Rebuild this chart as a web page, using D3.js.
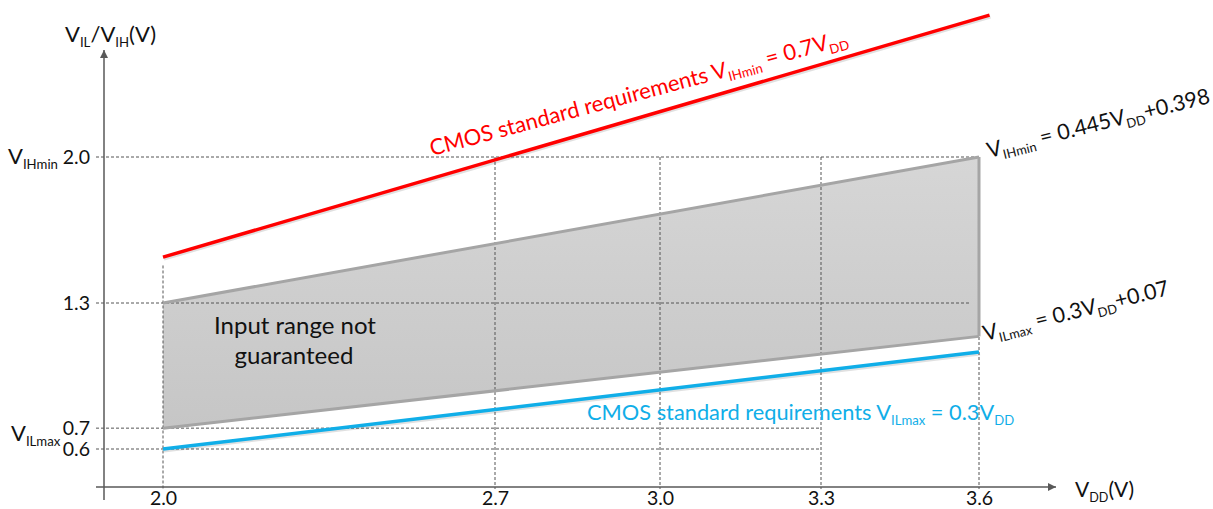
<!DOCTYPE html>
<html>
<head>
<meta charset="utf-8">
<script src="https://cdn.jsdelivr.net/npm/d3@7"></script>
<style>
  body { margin: 0; background: #fff; }
  svg text { font-family: Lato, "Open Sans", sans-serif; }
</style>
</head>
<body>
<div id="chart"></div>
<script>
// ============= Data =============
const xTicks = [2.0, 2.7, 3.0, 3.3, 3.6];
const yTicks = [0.6, 0.7, 1.3, 2.0];
const hGridEnd = [3.3, 3.3, 3.6, 3.6];      // where each horizontal dashed line stops (VDD)
const vGridTop = [1.48, 2.0, 2.0, 2.0, 2.0]; // where each vertical dashed line starts (V)

const vdd = [2.0, 3.6];
const vihMin = [1.3, 2.0];     // 0.445VDD+0.398
const vilMax = [0.7, 1.14];    // 0.3VDD+0.07
const cmosVdd = [2.0, 3.62];
const cmosVih = [1.52, 2.68];  // 0.7VDD (as drawn)
const cmosVil = [0.6, 1.065];  // 0.3VDD (as drawn)

const width = 1213;
const height = 509;
const axisX = 104;   // y axis position
const axisY = 487;   // x axis position

// ============= Scales =============
// the drawing's VDD axis is not evenly spaced, so map tick to tick
const x = d3.scaleLinear()
    .domain(xTicks)
    .range([163, 495, 660, 821, 979]);

const y = d3.scaleLinear()
    .domain([0.6, 2.0])
    .range([449, 157]);

const svg = d3.select('#chart')
    .append('svg')
    .attr('width', width)
    .attr('height', height);

const defs = svg.append('defs');
defs.append('marker')
    .attr('id', 'arrow')
    .attr('viewBox', '0 0 10 10')
    .attr('refX', 10).attr('refY', 5)
    .attr('markerWidth', 8).attr('markerHeight', 8)
    .attr('markerUnits', 'userSpaceOnUse')
    .attr('orient', 'auto')
    .append('path')
    .attr('d', 'M0,0 L10,5 L0,10 z')
    .attr('fill', '#595959');

const grad = defs.append('linearGradient')
    .attr('id', 'band').attr('x1', 0).attr('y1', 0).attr('x2', 0).attr('y2', 1);
grad.append('stop').attr('offset', 0).attr('stop-color', '#d6d6d6');
grad.append('stop').attr('offset', 1).attr('stop-color', '#c6c6c6');

// helper for text with subscripts: parts = [[text, isSub], ...]
function richText(g, parts, size) {
    const t = g.append('text').attr('font-size', size);
    let down = false;
    parts.forEach(([s, sub]) => {
        const ts = t.append('tspan').text(s);
        if (sub && !down) { ts.attr('dy', size * 0.22).attr('font-size', size * 0.6); down = true; }
        else if (sub) { ts.attr('font-size', size * 0.6); }
        else if (!sub && down) { ts.attr('dy', -size * 0.22); down = false; }
    });
    return t;
}

// ============= Band (input range not guaranteed) =============
const bandData = vdd.map((v, i) => ({ v, lo: vilMax[i], hi: vihMin[i] }));

svg.append('path')
    .datum(bandData)
    .attr('d', d3.area().x(d => x(d.v)).y0(d => y(d.lo)).y1(d => y(d.hi)))
    .attr('fill', 'url(#band)');

// ============= Dashed guides =============
const guides = svg.append('g')
    .attr('stroke', '#555')
    .attr('stroke-width', 1)
    .attr('stroke-dasharray', '3,2')
    .attr('fill', 'none');

guides.selectAll('.h')
    .data(yTicks)
    .join('line')
    .attr('x1', axisX - 8)
    .attr('x2', (d, i) => x(hGridEnd[i]) - (d === 1.3 ? 8 : 0))
    .attr('y1', d => y(d)).attr('y2', d => y(d));

guides.selectAll('.v')
    .data(xTicks)
    .join('line')
    .attr('x1', d => x(d)).attr('x2', d => x(d))
    .attr('y1', (d, i) => y(vGridTop[i]))
    .attr('y2', axisY + 2);

// band outline (top, bottom, right)
const bandLine = d3.line().x(d => x(d[0])).y(d => y(d[1]));
const outline = svg.append('g')
    .attr('fill', 'none')
    .attr('stroke', '#a5a5a5')
    .attr('stroke-width', 3);
outline.append('path').attr('d', bandLine(vdd.map((v, i) => [v, vihMin[i]])));
outline.append('path').attr('d', bandLine(vdd.map((v, i) => [v, vilMax[i]])));
outline.append('path')
    .attr('d', bandLine([[vdd[1], vihMin[1]], [vdd[1], vilMax[1]]]));

// ============= CMOS lines =============
function cmosLine(xs, vals, color) {
    const pts = xs.map((v, i) => [v, vals[i]]);
    svg.append('path')
        .attr('d', bandLine(pts))
        .attr('transform', 'translate(1,2)')
        .attr('fill', 'none')
        .attr('stroke', '#000')
        .attr('stroke-opacity', 0.12)
        .attr('stroke-width', 3);
    svg.append('path')
        .attr('d', bandLine(pts))
        .attr('fill', 'none')
        .attr('stroke', color)
        .attr('stroke-width', 3.5);
}
cmosLine(cmosVdd, cmosVih, '#ff0000');
cmosLine(vdd, cmosVil, '#10aee8');

// ============= Axes =============
svg.append('line')
    .attr('x1', axisX).attr('x2', axisX)
    .attr('y1', axisY + 13).attr('y2', 50)
    .attr('stroke', '#595959').attr('stroke-width', 1.5)
    .attr('marker-end', 'url(#arrow)');

svg.append('line')
    .attr('x1', axisX - 8).attr('x2', 1056)
    .attr('y1', axisY).attr('y2', axisY)
    .attr('stroke', '#595959').attr('stroke-width', 1.5)
    .attr('marker-end', 'url(#arrow)');

const xAxis = svg.append('g')
    .attr('transform', `translate(0, ${axisY})`)
    .call(d3.axisBottom(x).tickValues(xTicks).tickSize(0).tickPadding(4).tickFormat(d3.format('.1f')));
xAxis.select('.domain').remove();
xAxis.selectAll('text')
    .attr('font-family', 'Lato, sans-serif')
    .attr('font-size', 19.5)
    .attr('fill', '#111');

const yAxis = svg.append('g')
    .attr('transform', `translate(${axisX}, 0)`)
    .call(d3.axisLeft(y).tickValues(yTicks).tickSize(0).tickPadding(14).tickFormat(d3.format('.1f')));
yAxis.select('.domain').remove();
yAxis.selectAll('text')
    .attr('font-family', 'Lato, sans-serif')
    .attr('font-size', 19.5)
    .attr('fill', '#111');

// axis titles
richText(svg, [['V', false], ['IL', true], ['/V', false], ['IH', true], ['(V)', false]], 22)
    .attr('x', 65).attr('y', 42).attr('fill', '#111');

richText(svg, [['V', false], ['DD', true], ['(V)', false]], 21)
    .attr('x', 1075).attr('y', 497).attr('fill', '#111');

// y tick prefixes
richText(svg, [['V', false], ['IHmin', true]], 22)
    .attr('x', 8).attr('y', 164).attr('fill', '#111');

richText(svg, [['V', false], ['ILmax', true]], 22)
    .attr('x', 11).attr('y', 441).attr('fill', '#111');

// ============= Annotations =============
richText(svg, [['CMOS standard requirements V', false], ['IHmin', true], [' = 0.7V', false], ['DD', true]], 22)
    .attr('transform', 'translate(432,156) rotate(-15)')
    .attr('fill', '#ff0000');

richText(svg, [['CMOS standard requirements V', false], ['ILmax', true], [' = 0.3V', false], ['DD', true]], 21.8)
    .attr('x', 587).attr('y', 420)
    .attr('fill', '#10aee8');

richText(svg, [['V', false], ['IHmin', true], [' = 0.445V', false], ['DD', true], ['+0.398', false]], 21.5)
    .attr('transform', 'translate(989,158) rotate(-14)')
    .attr('fill', '#111');

richText(svg, [['V', false], ['ILmax', true], [' = 0.3V', false], ['DD', true], ['+0.07', false]], 21.5)
    .attr('transform', 'translate(985,341) rotate(-14)')
    .attr('fill', '#111');

const note = svg.append('text')
    .attr('font-size', 24)
    .attr('fill', '#111')
    .attr('text-anchor', 'middle');
note.append('tspan').attr('x', 295).attr('y', 334).text('Input range not');
note.append('tspan').attr('x', 294).attr('y', 364).text('guaranteed');
</script>
</body>
</html>
